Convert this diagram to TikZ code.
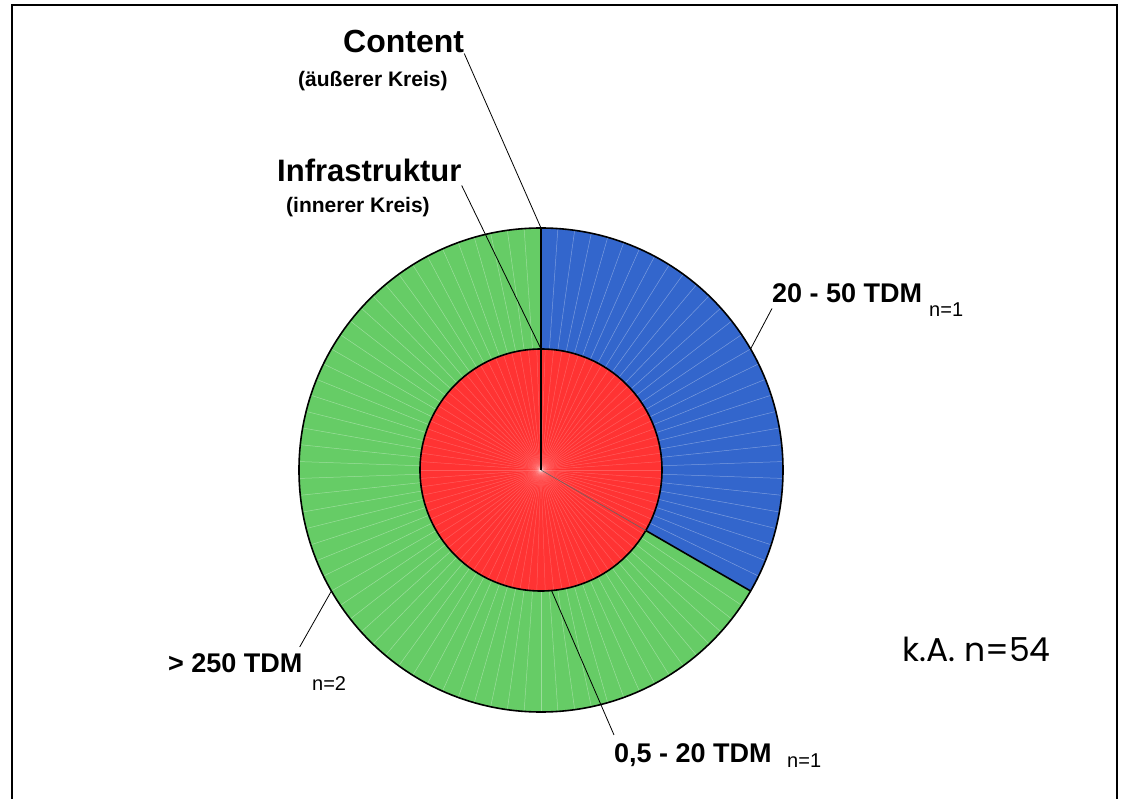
\documentclass[tikz,border=0pt]{standalone}
\usepackage{fontspec}
\setmainfont{Liberation Sans}
\newfontfamily\kafont{Poppins}
\usetikzlibrary{calc}

\definecolor{ringblue}{HTML}{3366CC}
\definecolor{ringgreen}{HTML}{66CC66}
\definecolor{corered}{HTML}{FF3333}

\tikzset{
  biglabel/.style={anchor=base west, inner sep=0pt, font=\bfseries\fontsize{31}{36}\selectfont},
  sublabel/.style={anchor=base west, inner sep=0pt, font=\bfseries\fontsize{21}{25}\selectfont},
  tdmlabel/.style={anchor=base west, inner sep=0pt, font=\bfseries\fontsize{27}{32}\selectfont},
  nlabel/.style={anchor=base west, inner sep=0pt, font=\fontsize{20}{24}\selectfont},
  leader/.style={draw=black, line width=0.8pt},
  rim/.style={draw=black, line width=1.6pt},
  spoke/.style={white, opacity=0.35, line width=0.5pt}
}

\begin{document}
\begin{tikzpicture}[x=1pt, y=1pt]

		\useasboundingbox (-541,-328) rectangle (581,470);

		%frame%
		\draw[line width=1.8pt] (-529,-340) -- (-529,465) -- (576,465) -- (576,-340);

		% outer ring %
		\fill[ringblue] (0,0) -- (90:242) arc (90:-30:242) -- cycle;
		\fill[ringgreen] (0,0) -- (-30:242) arc (-30:-270:242) -- cycle;
		\foreach \a in {-266,-262,...,86}
			\draw[spoke] (\a:121) -- (\a:242);

		% inner circle %
		\fill[corered] (0,0) circle (121);
		\foreach \a in {0,4,...,356}
			\draw[spoke, opacity=0.2] (0,0) -- (\a:121);

		% outlines %
		\draw[rim] (0,0) circle (242);
		\draw[rim] (0,0) circle (121);
		\draw[rim] (0,0) -- (90:242);
		\draw[rim] (-30:121) -- (-30:242);
		\draw[black!60, line width=0.6pt] (0,0) -- (-30:121);

		% anchor points on the rings
		\coordinate (outertop) at (90:242);
		\coordinate (innertop) at (90:121);
		\coordinate (bluerim) at (30:242);
		\coordinate (greenrim) at (210:242);
		\coordinate (redrim) at (-85:121);

		% labels %
		\node[biglabel, font=\bfseries\fontsize{32}{36}\selectfont] (content) at (-198,417) {Content};
		\node[sublabel] (contentsub) at (-243,383) {(äußerer Kreis)};
		\node[biglabel] (infra) at (-264,288) {Infrastruktur};
		\node[sublabel] (infrasub) at (-255,257) {(innerer Kreis)};

		\node[tdmlabel] (tdmmid) at (231,167) {20 - 50 TDM};
		\node[nlabel] (nmid) at (388,153) {n=1};
		\node[tdmlabel] (tdmhigh) at (-373,-202) {> 250 TDM};
		\node[nlabel] (nhigh) at (-229,-220) {n=2};
		\node[tdmlabel] (tdmlow) at (73,-292) {0,5 - 20 TDM};
		\node[nlabel] (nlow) at (246,-297) {n=1};

		\node[anchor=base west, inner sep=0pt, font=\kafont\fontsize{33}{38}\selectfont] (ka) at (361,-191) {k.A. n=54};

		% leaders %
		\draw[leader] (content.south east) -- (outertop);
		\draw[leader] ([yshift=-3pt]infra.south east) -- (innertop);
		\draw[leader] ([yshift=-5pt]tdmmid.south west) -- (bluerim);
		\draw[leader] ([xshift=-3pt, yshift=6pt]tdmhigh.north east) -- (greenrim);
		\draw[leader] ([yshift=8pt]tdmlow.north west) -- (redrim);

	\end{tikzpicture}
\end{document}
